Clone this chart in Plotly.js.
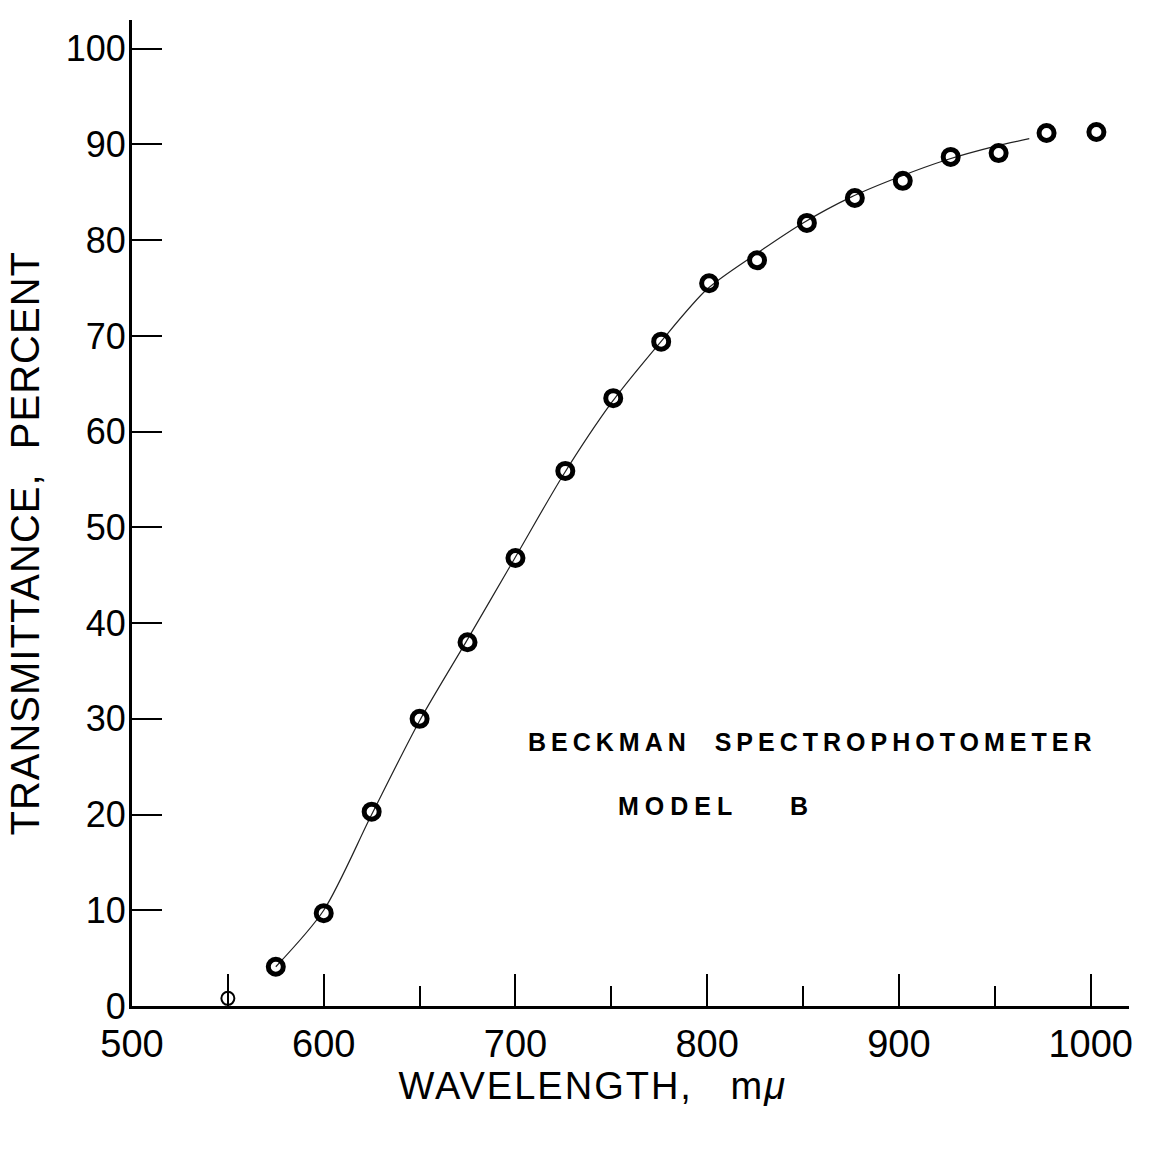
<!DOCTYPE html>
<html>
<head>
<meta charset="utf-8">
<script src="https://cdn.plot.ly/plotly-3.0.1.min.js"></script>
<style>
  html, body { margin: 0; padding: 0; background: #fff; }
  #chart { width: 1150px; height: 1150px; }
</style>
</head>
<body>
<div id="chart"></div>
<script>
// Wavelength (m\u03bc) of each measured point
const wavelength = [550, 575, 600, 625, 650, 675, 700, 726, 751, 776, 801, 826, 852, 877, 902, 927, 952, 977, 1003];
// Transmittance (percent) of each measured point
const transmittance = [0.8, 4.1, 9.7, 20.3, 30.0, 38.0, 46.8, 55.9, 63.5, 69.4, 75.5, 77.9, 81.8, 84.4, 86.2, 88.7, 89.1, 91.2, 91.3];

// The hand-drawn smooth curve
const curveWavelength = [575, 600, 625, 650, 675, 700, 725, 750, 775, 800, 825, 850, 875, 900, 925, 950, 968];
const curveTransmittance = [4.1, 10.0, 20.0, 29.8, 38.3, 46.9, 55.5, 63.0, 69.2, 74.9, 78.5, 81.8, 84.5, 86.6, 88.4, 89.8, 90.6];

const xTickVals = [500, 550, 600, 700, 800, 900, 1000];
const xTickText = ['500', '', '600', '700', '800', '900', '1000'];
const yTickVals = [0, 10, 20, 30, 40, 50, 60, 70, 80, 90, 100];
const yTickText = ['0', '10', '20', '30', '40', '50', '60', '70', '80', '90', '100'];

const xTitle = 'WAVELENGTH,&nbsp;&nbsp;&nbsp;m<i>\u03bc</i>';
const yTitle = 'TRANSMITTANCE,&nbsp;&nbsp;PERCENT';
const note1 = 'BECKMAN&nbsp;&nbsp;SPECTROPHOTOMETER';
const note2 = 'MODEL&nbsp;&nbsp;&nbsp;&nbsp;B';

const FONT = 'Liberation Sans, Arial, sans-serif';
const PAD = '&nbsp;&nbsp;&nbsp;&nbsp;&nbsp;';

const curve = {
  x: curveWavelength,
  y: curveTransmittance,
  mode: 'lines',
  line: { color: '#222', width: 1.2, shape: 'spline', smoothing: 0.8 },
  hoverinfo: 'skip',
  showlegend: false
};

const points = {
  x: wavelength,
  y: transmittance,
  mode: 'markers',
  marker: {
    symbol: 'circle-open',
    size: wavelength.map((w, i) => i === 0 ? 13 : 15),
    color: '#000',
    opacity: 1,
    line: { color: '#000', width: wavelength.map((w, i) => i === 0 ? 2 : 5) }
  },
  showlegend: false
};

const layout = {
  width: 1150,
  height: 1150,
  margin: { l: 132, r: 21, t: 20, b: 144 },
  paper_bgcolor: '#fff',
  plot_bgcolor: '#fff',
  showlegend: false,
  font: { family: FONT, color: '#000' },
  xaxis: {
    range: [500, 1020],
    tickmode: 'array',
    tickvals: xTickVals,
    ticktext: xTickText,
    ticks: 'inside',
    ticklen: 32,
    tickwidth: 2,
    tickcolor: '#000',
    minor: { dtick: 50, ticks: 'inside', ticklen: 20, tickwidth: 2, tickcolor: '#000', showgrid: false },
    showgrid: false,
    zeroline: false,
    showline: true,
    linecolor: '#000',
    linewidth: 3,
    tickfont: { family: FONT, size: 38, color: '#000' },
    ticklabelstandoff: 2,
    title: { text: '<span style="letter-spacing:2px">' + xTitle + PAD + '&nbsp;</span>', font: { family: FONT, size: 38, color: '#000' }, standoff: 8 }
  },
  yaxis: {
    range: [0, 103],
    tickmode: 'array',
    tickvals: yTickVals,
    ticktext: yTickText,
    ticks: 'inside',
    ticklen: 30,
    tickwidth: 2,
    tickcolor: '#000',
    showgrid: false,
    zeroline: false,
    showline: true,
    linecolor: '#000',
    linewidth: 3,
    tickfont: { family: FONT, size: 36, color: '#000' },
    ticklabelstandoff: -4,
    title: { text: '<span style="letter-spacing:1px">' + yTitle + PAD + '</span>', font: { family: FONT, size: 40, color: '#000' }, standoff: 14 }
  },
  annotations: [
    {
      xref: 'paper', yref: 'paper',
      x: (812 - 132) / 997, y: (1006 - 742) / 986,
      xanchor: 'center', yanchor: 'middle',
      text: '<b><span style="letter-spacing:5px">' + note1 + '</span></b>',
      showarrow: false,
      font: { family: FONT, size: 25, color: '#000' }
    },
    {
      xref: 'paper', yref: 'paper',
      x: (716 - 132) / 997, y: (1006 - 806) / 986,
      xanchor: 'center', yanchor: 'middle',
      text: '<b><span style="letter-spacing:6px">' + note2 + '</span></b>',
      showarrow: false,
      font: { family: FONT, size: 25, color: '#000' }
    }
  ]
};

Plotly.newPlot('chart', [curve, points], layout, { displayModeBar: false, staticPlot: true });
</script>
</body>
</html>
